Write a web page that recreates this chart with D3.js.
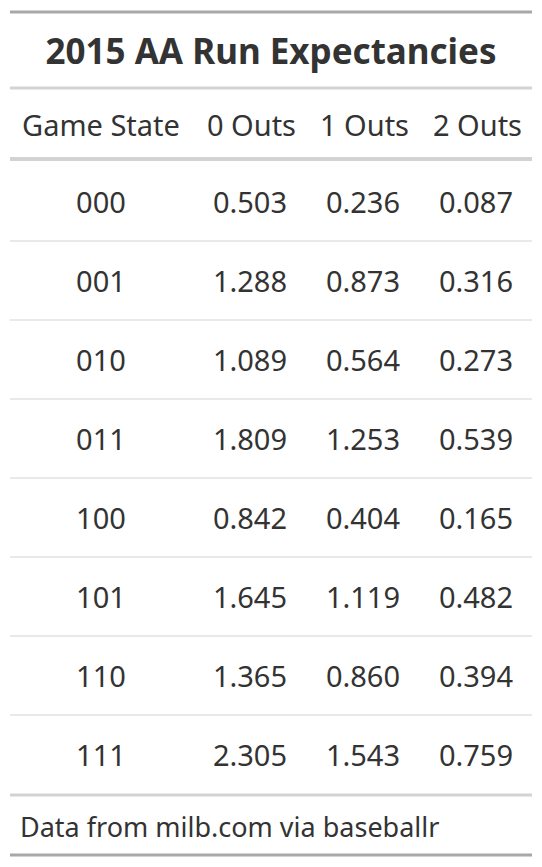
<!DOCTYPE html>
<html><head><meta charset="utf-8">
<script src="https://cdn.jsdelivr.net/npm/d3@7"></script>
<style>body{margin:0;background:#fff}text{font-family:"Noto Sans","Open Sans",sans-serif;fill:#333}</style>
</head><body>
<svg id="chart" width="542" height="867"></svg>
<script>
const title = "2015 AA Run Expectancies";
const headers = ["Game State", "0 Outs", "1 Outs", "2 Outs"];
const states = ["000","001","010","011","100","101","110","111"];
const outs0 = [0.503,1.288,1.089,1.809,0.842,1.645,1.365,2.305];
const outs1 = [0.236,0.873,0.564,1.253,0.404,1.119,0.860,1.543];
const outs2 = [0.087,0.316,0.273,0.539,0.165,0.482,0.394,0.759];
const footer = "Data from milb.com via baseballr";

const svg = d3.select("#chart");
const left = 10, right = 532;

// rows
const y = d3.scaleBand().domain(states).range([162, 794]);
const colRight = [null, 287, 400, 513];

const hline = (yy, w, c) => svg.append("line")
    .attr("x1", left).attr("x2", right).attr("y1", yy).attr("y2", yy)
    .style("stroke", c).style("stroke-width", w);

hline(12, 3, "#a8a8a8");
svg.append("text").attr("x", 271).attr("y", 64).attr("text-anchor", "middle")
    .style("font-size", "35px").style("font-weight", "bold").text(title);
hline(88, 3, "#d3d3d3");

svg.selectAll(".hdr").data(headers).enter().append("text")
    .attr("class", "hdr")
    .attr("x", (d, i) => i === 0 ? 101 : colRight[i] + 9)
    .attr("y", 136)
    .attr("text-anchor", (d, i) => i === 0 ? "middle" : "end")
    .style("font-size", "29px").text(d => d);
hline(159, 4, "#d3d3d3");

const rows = states.map((s, i) => [s, outs0[i].toFixed(3), outs1[i].toFixed(3), outs2[i].toFixed(3)]);
const g = svg.selectAll(".row").data(rows).enter().append("g")
    .attr("class", "row")
    .attr("transform", (d, i) => `translate(0,${y(states[i]) + y.bandwidth() / 2})`);
g.selectAll("text").data(d => d).enter().append("text")
    .attr("x", (d, i) => i === 0 ? 101 : colRight[i])
    .attr("y", 11)
    .attr("text-anchor", (d, i) => i === 0 ? "middle" : "end")
    .style("font-size", "29px").text(d => d);

states.slice(1).forEach(s => hline(y(s), 1, "#d3d3d3"));
hline(795, 3, "#d3d3d3");
svg.append("text").attr("x", 20).attr("y", 837).style("font-size", "27px").text(footer);
hline(855, 3, "#a8a8a8");
</script>
</body></html>
